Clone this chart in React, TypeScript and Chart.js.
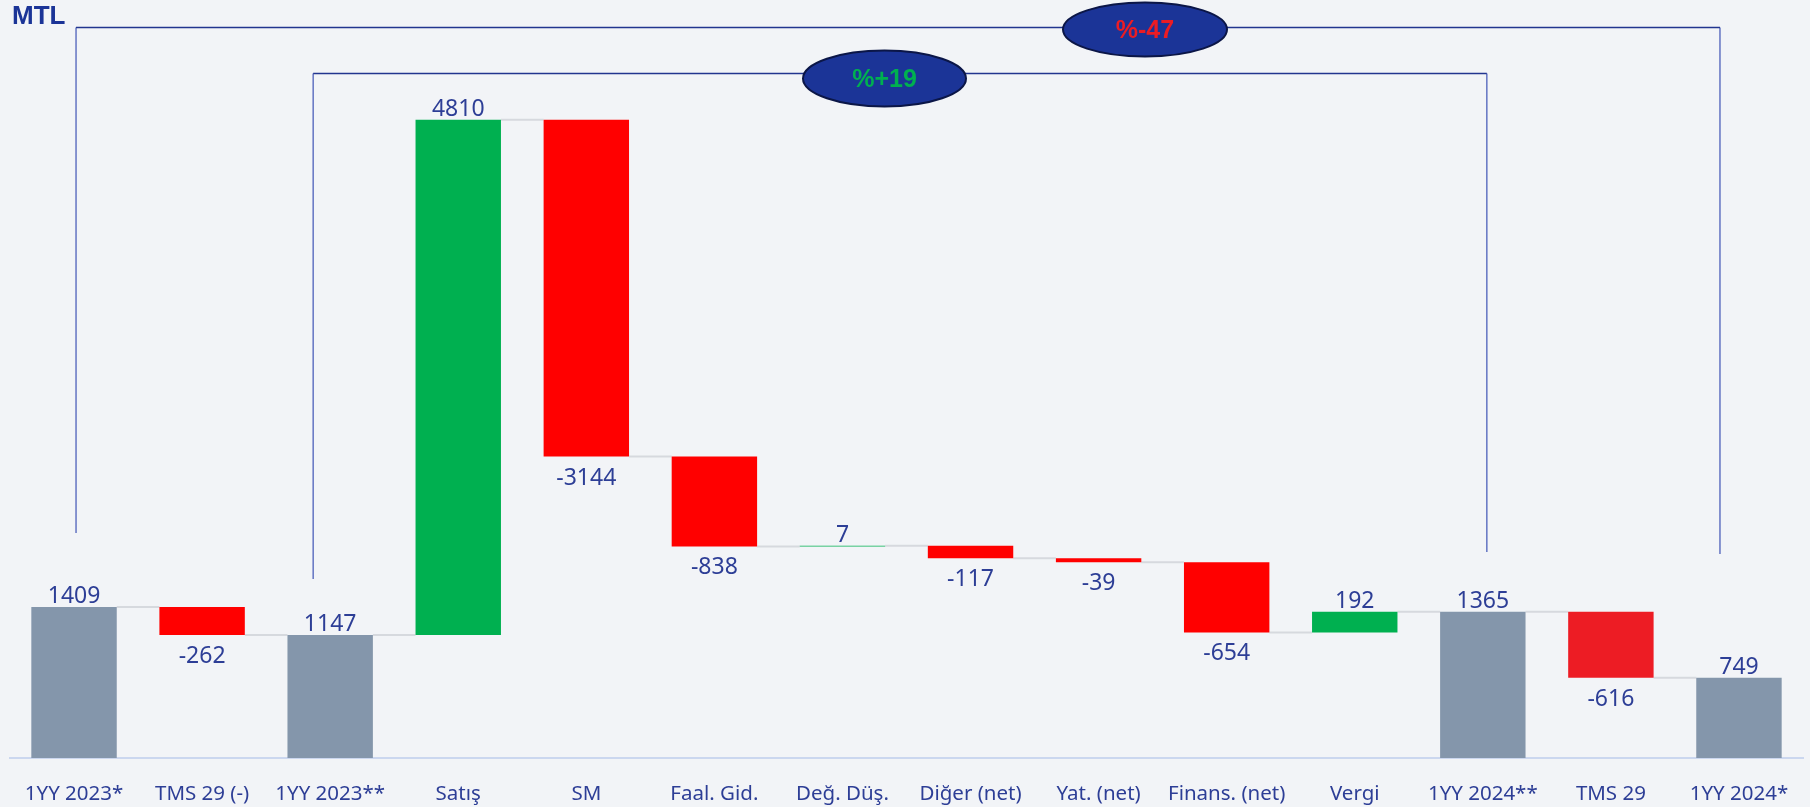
import React, { useEffect, useRef } from "react";
import { Chart, registerables } from "chart.js";
Chart.register(...registerables);

const categories = [
  "1YY 2023*", "TMS 29 (-)", "1YY 2023**", "Satış", "SM", "Faal. Gid.", "Değ. Düş.",
  "Diğer (net)", "Yat. (net)", "Finans. (net)", "Vergi", "1YY 2024**", "TMS 29", "1YY 2024*",
];
const values = [1409, -262, 1147, 4810, -3144, -838, 7, -117, -39, -654, 192, 1365, -616, 749];
const kinds = ["total", "delta", "total", "delta", "delta", "delta", "delta", "delta", "delta", "delta", "delta", "total", "delta", "total"];
const barColors = [
  "#8496ab", "#ff0000", "#8496ab", "#00b050", "#ff0000", "#ff0000", "#00b050",
  "#ff0000", "#ff0000", "#ff0000", "#00b050", "#8496ab", "#ed1c24", "#8496ab",
];
const compareLabels = ["%+19", "%-47"];
const compareColors = ["#00b050", "#ec1c24"];
const unitLabel = "MTL";

function buildRanges(): [number, number][] {
  let run = 0;
  const out: [number, number][] = [];
  values.forEach((v, i) => {
    if (kinds[i] === "total") {
      out.push([0, v]);
      run = v;
    } else {
      out.push([run, run + v]);
      run += v;
    }
  });
  return out;
}
const ranges = buildRanges();

const TEXT_BLUE = "#2d3e96";

const overlay = {
  id: "overlay",
  beforeDatasetsDraw(chart: any) {
    const ctx = chart.ctx;
    const meta = chart.getDatasetMeta(0);
    const ys = chart.scales.y;
    ctx.save();
    ctx.strokeStyle = "#d6d9de";
    ctx.lineWidth = 2;
    for (let i = 0; i < meta.data.length - 1; i++) {
      const a = meta.data[i];
      const b = meta.data[i + 1];
      const yy = ys.getPixelForValue(ranges[i][1]);
      ctx.beginPath();
      ctx.moveTo(a.x + a.width / 2, yy);
      ctx.lineTo(b.x - b.width / 2, yy);
      ctx.stroke();
    }
    ctx.restore();
  },
  afterDatasetsDraw(chart: any) {
    const ctx = chart.ctx;
    const meta = chart.getDatasetMeta(0);
    const ys = chart.scales.y;
    const xs = chart.scales.x;
    ctx.save();
    // value labels
    ctx.fillStyle = TEXT_BLUE;
    ctx.font = "23px 'Noto Sans'";
    ctx.textAlign = "center";
    ctx.textBaseline = "alphabetic";
    meta.data.forEach((bar: any, i: number) => {
      const v = values[i];
      const [s, e] = ranges[i];
      if (v >= 0) {
        const top = ys.getPixelForValue(Math.max(s, e));
        ctx.fillText(String(v), bar.x, top - 4);
      } else {
        const bottom = ys.getPixelForValue(Math.min(s, e));
        ctx.fillText(String(v), bar.x, bottom + 28);
      }
    });

    // brackets
    const px = (i: number) => xs.getPixelForValue(i);
    const drawBracket = (x1: number, x2: number, y: number, b1: number, b2: number) => {
      ctx.lineWidth = 1.5;
      ctx.strokeStyle = "#6374c2";
      ctx.beginPath();
      ctx.moveTo(x1, y);
      ctx.lineTo(x1, b1);
      ctx.moveTo(x2, y);
      ctx.lineTo(x2, b2);
      ctx.stroke();
      ctx.strokeStyle = "#22358f";
      ctx.beginPath();
      ctx.moveTo(x1, y);
      ctx.lineTo(x2, y);
      ctx.stroke();
    };
    drawBracket(px(0) + 2, px(13) - 19, 27.5, 533, 554);
    drawBracket(px(2) - 17, px(11) + 4, 73.5, 579, 552);

    const drawBadge = (cx: number, cy: number, rx: number, ry: number, text: string, color: string) => {
      ctx.beginPath();
      ctx.ellipse(cx, cy, rx, ry, 0, 0, Math.PI * 2);
      ctx.fillStyle = "#1b3497";
      ctx.fill();
      ctx.lineWidth = 2;
      ctx.strokeStyle = "#0b1647";
      ctx.stroke();
      ctx.fillStyle = color;
      ctx.font = "bold 25px 'Liberation Sans'";
      ctx.textAlign = "center";
      ctx.textBaseline = "middle";
      ctx.fillText(text, cx, cy + 2);
    };
    drawBadge(884.5, 78.5, 81.5, 28, compareLabels[0], compareColors[0]);
    drawBadge(1145, 29.5, 82, 27, compareLabels[1], compareColors[1]);

    // unit label
    ctx.fillStyle = "#1b3497";
    ctx.font = "bold 26px 'Liberation Sans'";
    ctx.textAlign = "left";
    ctx.textBaseline = "alphabetic";
    ctx.fillText(unitLabel, 12, 24);
    ctx.restore();
  },
};

export default function App() {
  const ref = useRef<HTMLCanvasElement | null>(null);
  useEffect(() => {
    document.body.style.background = "#f2f4f7";
    const chart = new Chart(ref.current as HTMLCanvasElement, {
      type: "bar",
      data: {
        labels: categories,
        datasets: [
          {
            data: ranges as any,
            backgroundColor: barColors,
            borderWidth: 0,
            borderSkipped: false,
            categoryPercentage: 1,
            barPercentage: 0.667,
          },
        ],
      },
      options: {
        animation: false,
        responsive: true,
        maintainAspectRatio: false,
        layout: { padding: { left: 10, right: 7, top: 8, bottom: 0 } },
        plugins: { legend: { display: false }, tooltip: { enabled: false } },
        scales: {
          x: {
            grid: { display: false, drawTicks: false },
            border: { display: true, color: "#cbd7ef", width: 2 },
            ticks: {
              color: TEXT_BLUE,
              font: { family: "'Noto Sans'", size: 20.5 },
              padding: 24,
              maxRotation: 0,
              autoSkip: false,
            },
            afterFit: (axis: any) => {
              axis.height = 49;
              axis.paddingLeft = 0;
              axis.paddingRight = 0;
            },
          },
          y: { display: false, min: 0, max: 7000 },
        },
      },
      plugins: [overlay],
    });
    return () => chart.destroy();
  }, []);
  return (
    <div style={{ position: "absolute", left: 0, top: 0, width: 1810, height: 807, background: "#f2f4f7" }}>
      <canvas ref={ref} />
    </div>
  );
}
